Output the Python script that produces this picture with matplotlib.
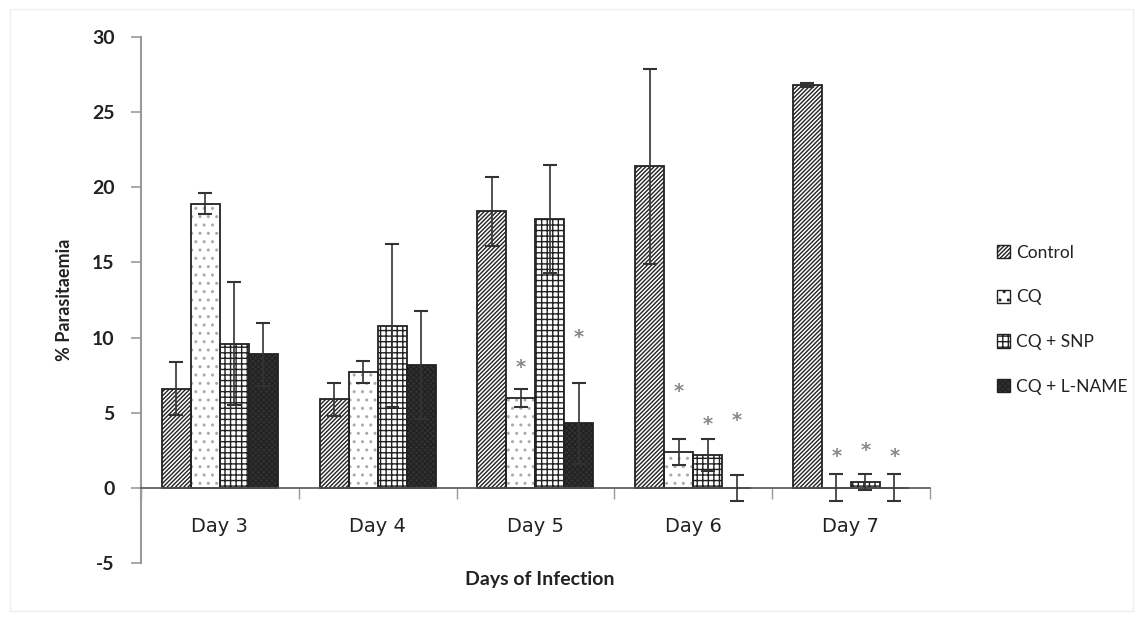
import matplotlib
matplotlib.use("Agg")
import matplotlib.pyplot as plt
import numpy as np
from matplotlib.patches import Rectangle

plt.rcParams['hatch.linewidth'] = 1.0

days = ["Day 3", "Day 4", "Day 5", "Day 6", "Day 7"]
series = ["Control", "CQ", "CQ + SNP", "CQ + L-NAME"]
control = [6.6, 5.9, 18.4, 21.4, 26.8]
control_err = [1.75, 1.1, 2.3, 6.5, 0.15]
cq = [18.9, 7.7, 6.0, 2.4, 0.0]
cq_err = [0.7, 0.75, 0.6, 0.85, 0.9]
snp = [9.6, 10.8, 17.9, 2.2, 0.4]
snp_err = [4.1, 5.4, 3.6, 1.05, 0.55]
lname = [8.9, 8.2, 4.3, 0.0, 0.0]
lname_err = [2.1, 3.6, 2.7, 0.85, 0.9]
asterisk_y = {
    "CQ": [None, None, 8.0, 6.4, 2.1],
    "CQ + SNP": [None, None, None, 4.2, 2.5],
    "CQ + L-NAME": [None, None, 10.0, 4.5, 2.1],
}

values = [control, cq, snp, lname]
errs = [control_err, cq_err, snp_err, lname_err]
hatches = ["////////", "..", "+++", "xxxxxx"]
facecols = ["white", "white", "white", "#333333"]
hatchcols = ["#222222", "#aaaaaa", "#222222", "#222222"]

fig = plt.figure(figsize=(11.43, 6.17), dpi=100)
fig.patches.append(Rectangle((0.009, 0.01), 0.982, 0.975, transform=fig.transFigure,
                             fill=False, edgecolor="#eeeeee", lw=1))
ax = fig.add_axes([0.1234, 0.0875, 0.69, 0.8525])

x = np.arange(len(days))
w = 0.184
offsets = (np.arange(4) - 1.5) * w
handles = []
for i, (vals, er) in enumerate(zip(values, errs)):
    ax.bar(x + offsets[i], vals, width=w, color=facecols[i],
           edgecolor=hatchcols[i], hatch=hatches[i], linewidth=0, zorder=2)
    ax.bar(x + offsets[i], vals, width=w, fill=False,
           edgecolor="#222222", linewidth=1.3, zorder=2.1)
    h = Rectangle((0, 0), 1, 1, facecolor=facecols[i], edgecolor="#222222",
                  hatch=hatches[i], linewidth=1.0)
    handles.append(h)
    ax.errorbar(x + offsets[i], vals, yerr=er, fmt="none", ecolor="#333333",
                elinewidth=1.2, capsize=5, capthick=1.5, zorder=3)

for i, name in enumerate(series):
    if name in asterisk_y:
        for j, yv in enumerate(asterisk_y[name]):
            if yv is not None:
                ax.text(x[j] + offsets[i], yv, "*", ha="center", va="center",
                        fontsize=14, color="#888888", fontweight="bold")

ax.set_xlim(-0.5, len(days) - 0.5)
ax.set_ylim(-5, 30)
ax.set_yticks(np.arange(-5, 31, 5))
ax.set_yticklabels([str(v) for v in np.arange(-5, 31, 5)], fontsize=14,
                   fontweight="bold", color="#222222", family="Lato")
ax.tick_params(axis="y", direction="out", length=7, color="#999999", width=1.2, pad=12)

ax.set_xticks(np.arange(len(days) + 1) - 0.5)
ax.set_xticklabels([])
ax.set_xticks(x, minor=True)
ax.set_xticklabels(days, minor=True)
ax.tick_params(axis="x", which="major", direction="out", length=8, color="#999999", width=1)
ax.tick_params(axis="x", which="minor", length=0, pad=21, labelsize=14, labelcolor="#222222")
for lab in ax.get_xticklabels(minor=True):
    lab.set_family("Lato")

for s in ["top", "right"]:
    ax.spines[s].set_visible(False)
ax.spines["left"].set_color("#999999")
ax.spines["left"].set_linewidth(1.5)
ax.spines["bottom"].set_position(("data", 0))
ax.spines["bottom"].set_color("#555555")
ax.spines["bottom"].set_linewidth(1.2)

ax.set_ylabel("% Parasitaemia", fontsize=13, fontweight="bold", family="Lato",
              color="#222222", labelpad=14)
fig.text(0.4725, 0.06, "Days of Infection", ha="center", va="center", fontsize=14,
         fontweight="bold", family="Lato", color="#222222")

leg = ax.legend(handles, series, loc="upper left", bbox_to_anchor=(1.065, 0.635), frameon=False,
                handlelength=0.8, handleheight=0.8, labelspacing=1.65,
                handletextpad=0.3, prop={"family": "Lato", "size": 12.5})
for t in leg.get_texts():
    t.set_color("#222222")

fig.savefig("out.png", dpi=100)
